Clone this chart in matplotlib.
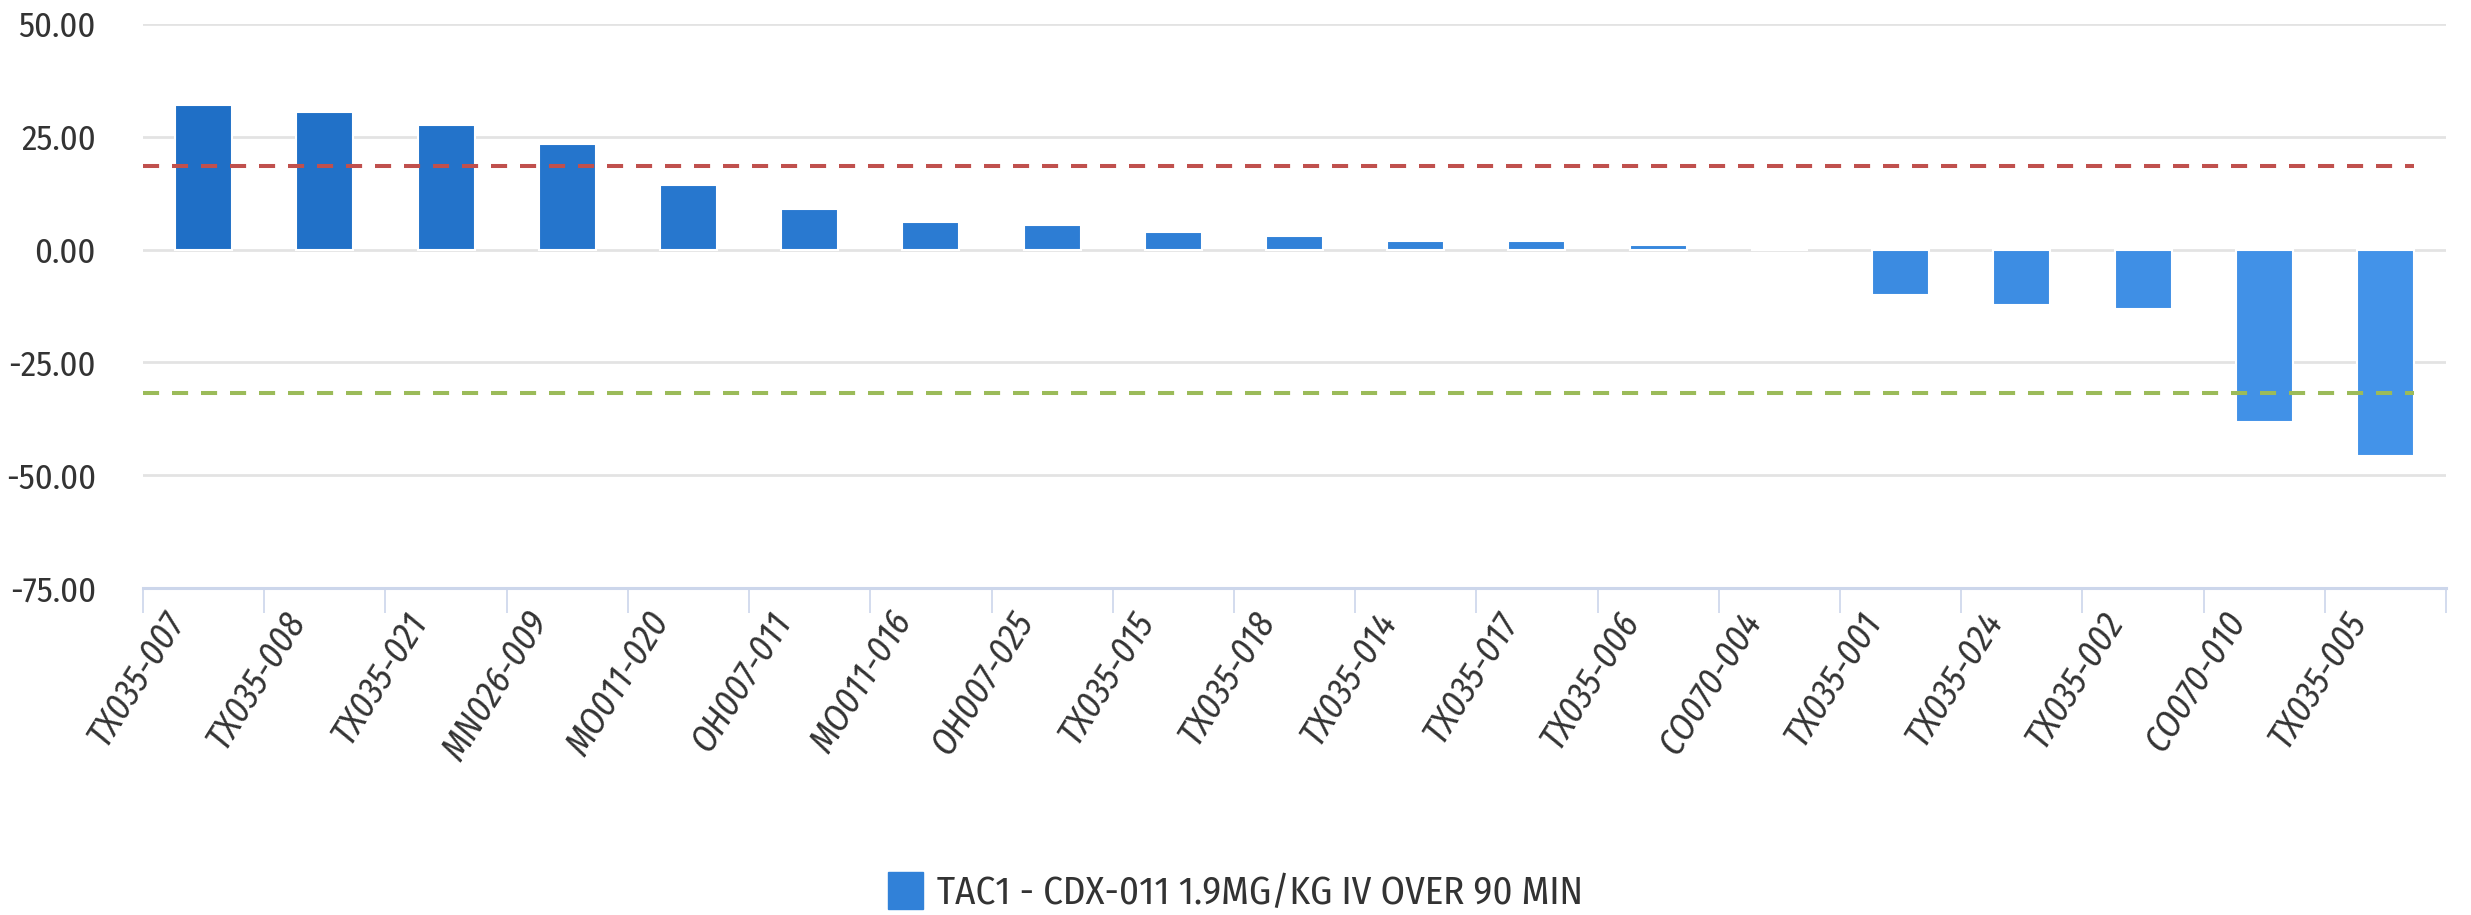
import numpy as np
import matplotlib
matplotlib.use("Agg")
import matplotlib.pyplot as plt
import matplotlib.transforms as mtransforms
from matplotlib.colors import LinearSegmentedColormap

# data
patients = ["TX035-007", "TX035-008", "TX035-021", "MN026-009", "MO011-020",
            "OH007-011", "MO011-016", "OH007-025", "TX035-015", "TX035-018",
            "TX035-014", "TX035-017", "TX035-006", "CO070-004", "TX035-001",
            "TX035-024", "TX035-002", "CO070-010", "TX035-005"]
pct_change = [32.0, 30.4, 27.5, 23.3, 14.3, 9.0, 6.1, 5.4, 3.9, 3.1,
              1.8, 1.8, 1.0, 0.0, -10.1, -12.2, -13.1, -38.3, -45.7]
upper_ref = 18.5
lower_ref = -31.7
y_ticks = [50, 25, 0, -25, -50, -75]
series_name = "TAC1 - CDX-011 1.9MG/KG IV OVER 90 MIN"

fonts = ["Fira Sans Condensed", "Asap Condensed", "Sofia Sans Condensed",
         "DejaVu Sans"]
plt.rcParams["font.family"] = fonts

fig = plt.figure(figsize=(24.71, 9.15), dpi=100)
ax = fig.add_axes([0.0579, 0.3574, 0.9320, 0.6164])

x = np.arange(len(patients))
shade = LinearSegmentedColormap.from_list("shade", ["#1f6fc6", "#4393e9"])
colors = [shade(i / (len(patients) - 1)) for i in x]
ax.bar(x, pct_change, width=0.47, color=colors, edgecolor="white",
       linewidth=1.5, zorder=3)

# reference lines
right_end = x[-1] + 0.235
ax.plot([-0.5, right_end], [upper_ref, upper_ref], color="#c0504d", lw=2.9,
        linestyle=(0, (4, 3.2)), zorder=4)
ax.plot([-0.5, right_end], [lower_ref, lower_ref], color="#9bbb59", lw=2.9,
        linestyle=(0, (4, 3.2)), zorder=4)

ax.set_xlim(-0.5, len(patients) - 0.5)
ax.set_ylim(-75, 50)
ax.set_yticks(y_ticks)
ax.set_yticklabels([f"{v:.2f}" for v in y_ticks], fontsize=25, color="#333333")
for v in y_ticks[:-1]:
    ax.axhline(v, color="#e3e3e3", lw=2.0, zorder=1)

# category labels, italic and slanted, hung below each bar
ax.set_xticks(np.arange(-0.5, len(patients)))
ax.set_xticklabels([])
ax.tick_params(axis="x", length=18, width=1.2, color="#ccd6eb")
ax.tick_params(axis="y", length=0, pad=34)
shift = mtransforms.ScaledTranslation(-0.27, -0.27, fig.dpi_scale_trans)
label_tr = ax.get_xaxis_transform() + shift
for xi, name in zip(x, patients):
    ax.text(xi, 0, name, transform=label_tr, rotation=58, ha="right",
            va="center", rotation_mode="anchor", fontsize=26,
            style="italic", color="#333333")

for side in ["left", "right", "top"]:
    ax.spines[side].set_visible(False)
ax.spines["bottom"].set_color("#ccd6eb")
ax.spines["bottom"].set_linewidth(2.2)

handles = [plt.Rectangle((0, 0), 1, 1, color=colors[len(colors) // 2])]
fig.legend(handles, [series_name], loc="center", bbox_to_anchor=(0.5, 0.025),
           frameon=False, fontsize=28, handlelength=0.9, handleheight=1.07,
           handletextpad=0.35, labelcolor="#333333")

fig.savefig("out.png", dpi=100, facecolor="white")
